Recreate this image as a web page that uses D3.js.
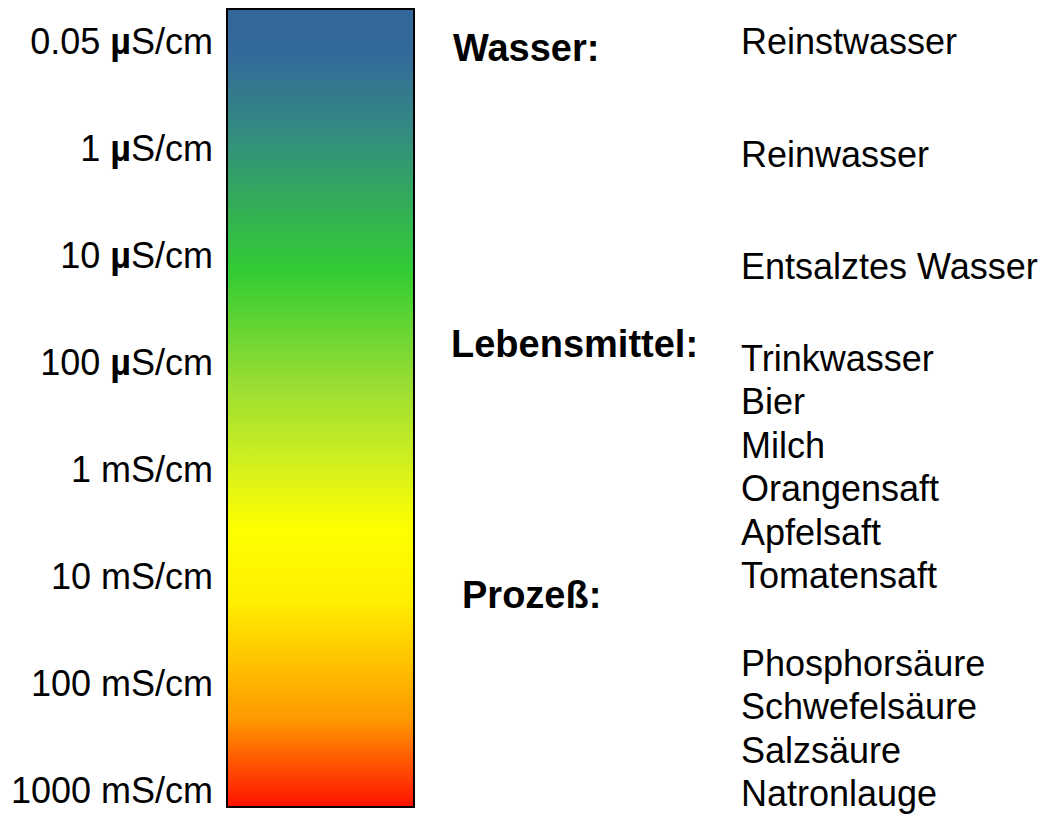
<!DOCTYPE html>
<html>
<head>
<meta charset="utf-8">
<script src="https://cdn.jsdelivr.net/npm/d3@7"></script>
<style>
 body { margin: 0; background: #fff; }
 text { font-family: "Liberation Sans", Arial, sans-serif; fill: #000; }
</style>
</head>
<body>
<svg width="1053" height="814"></svg>
<script>
// scale labels, top to bottom
var scaleValues = ["0.05", "1", "10", "100", "1", "10", "100", "1000"];
var scaleUnits = ["µ", "µ", "µ", "µ", "m", "m", "m", "m"];

// groups on the right
var groupNames = ["Wasser:", "Lebensmittel:", "Prozeß:"];
var waterItems = ["Reinstwasser", "Reinwasser", "Entsalztes Wasser"];
var foodItems = ["Trinkwasser", "Bier", "Milch", "Orangensaft", "Apfelsaft", "Tomatensaft"];
var processItems = ["Phosphorsäure", "Schwefelsäure", "Salzsäure", "Natronlauge"];

// colour stops of the bar
var stopOffsets = [0, 0.06, 0.15, 0.33, 0.47, 0.56, 0.65, 0.74, 0.89, 1];
var stopColors = ["#336699", "#336a99", "#338a82", "#33cc33", "#99dd33", "#ccee22", "#ffff00", "#fff000", "#ff9900", "#ff1100"];

var svg = d3.select("svg");

var grad = svg.append("defs").append("linearGradient")
 .attr("id", "cond")
 .attr("x1", 0).attr("y1", 0)
 .attr("x2", 0).attr("y2", 1);

grad.selectAll("stop")
 .data(stopOffsets)
 .enter()
 .append("stop")
 .attr("offset", function(d) { return d; })
 .attr("stop-color", function(d, i) { return stopColors[i]; });

// bar
svg.append("rect")
 .attr("x", 227)
 .attr("y", 9)
 .attr("width", 187)
 .attr("height", 798)
 .attr("fill", "url(#cond)")
 .attr("stroke", "#000")
 .attr("stroke-width", 2);

// left labels
var y = d3.scalePoint()
 .domain(d3.range(scaleValues.length))
 .range([54, 803]);

var lab = svg.selectAll(".lab")
 .data(scaleValues)
 .enter()
 .append("text")
 .attr("class", "lab")
 .attr("x", 213)
 .attr("y", function(d, i) { return y(i); })
 .attr("text-anchor", "end")
 .attr("font-size", "36px");

lab.append("tspan").text(function(d) { return d + " "; });
lab.append("tspan")
 .attr("font-weight", function(d, i) { return scaleUnits[i] == "µ" ? "bold" : "normal"; })
 .text(function(d, i) { return scaleUnits[i]; });
lab.append("tspan").text("S/cm");

// group headings
var headX = [453, 451, 462];
var headY = [61, 357, 608];

svg.selectAll(".head")
 .data(groupNames)
 .enter()
 .append("text")
 .attr("class", "head")
 .attr("x", function(d, i) { return headX[i]; })
 .attr("y", function(d, i) { return headY[i]; })
 .attr("font-size", "38px")
 .attr("font-weight", "bold")
 .text(function(d) { return d; });

// item lists
function itemList(items, start, step) {
 svg.selectAll(null)
  .data(items)
  .enter()
  .append("text")
  .attr("x", 741)
  .attr("y", function(d, i) { return start + i * step; })
  .attr("font-size", "36px")
  .text(function(d) { return d; });
}

itemList(waterItems, 54, 112.5);
itemList(foodItems, 371, 43.4);
itemList(processItems, 676, 43.4);
</script>
</body>
</html>
